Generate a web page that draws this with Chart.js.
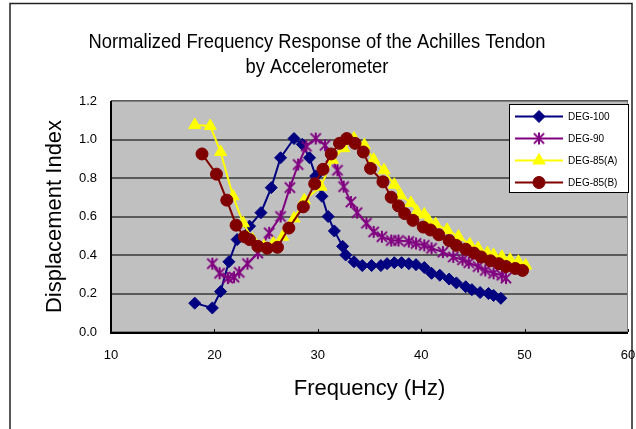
<!DOCTYPE html>
<html>
<head>
<meta charset="utf-8">
<script src="https://cdn.jsdelivr.net/npm/chart.js@4/dist/chart.umd.min.js"></script>
<style>
  html, body { margin: 0; padding: 0; background: #fff; }
  #wrap { width: 636px; height: 429px; position: relative; }
</style>
</head>
<body>
<div id="wrap"><canvas id="c" width="636" height="429"></canvas></div>
<script>
// ---- Data ----
const titleLines = ['Normalized Frequency Response of the Achilles Tendon', 'by Accelerometer'];
const seriesNames = ['DEG-100', 'DEG-90', 'DEG-85(A)', 'DEG-85(B)'];

const freq100 = [18.1, 19.8, 20.6, 21.4, 22.2, 23.4, 24.5, 25.5, 26.4, 27.7, 28.5, 29.2, 29.8, 30.4, 31.0, 31.6, 32.4, 32.7, 33.5, 34.3, 35.2, 36.1, 36.7, 37.4, 38.1, 38.8, 39.5, 40.3, 41.0, 41.8, 42.7, 43.4, 44.3, 44.9, 45.7, 46.5, 47.0, 47.7];
const disp100 = [0.15, 0.125, 0.21, 0.365, 0.48, 0.55, 0.62, 0.75, 0.905, 1.005, 0.975, 0.905, 0.81, 0.705, 0.60, 0.525, 0.445, 0.40, 0.365, 0.345, 0.345, 0.345, 0.355, 0.36, 0.36, 0.355, 0.35, 0.335, 0.305, 0.295, 0.275, 0.255, 0.235, 0.22, 0.205, 0.20, 0.19, 0.175];

const freq90 = [19.8, 20.5, 21.3, 21.9, 22.4, 23.2, 24.2, 25.3, 26.4, 27.3, 28.1, 28.9, 29.8, 30.7, 31.3, 31.9, 32.5, 33.2, 33.8, 34.7, 35.4, 36.2, 37.1, 37.8, 38.8, 39.5, 40.3, 41.0, 42.1, 43.1, 44.0, 44.6, 45.5, 46.2, 47.0, 47.8, 48.2];
const disp90 = [0.355, 0.305, 0.28, 0.285, 0.31, 0.355, 0.41, 0.515, 0.60, 0.75, 0.87, 0.965, 1.005, 0.97, 0.91, 0.84, 0.755, 0.675, 0.62, 0.565, 0.52, 0.495, 0.475, 0.475, 0.47, 0.46, 0.45, 0.435, 0.415, 0.39, 0.375, 0.36, 0.34, 0.32, 0.305, 0.295, 0.28];

const freq85A = [18.1, 19.6, 20.6, 21.8, 22.8, 23.7, 24.8, 25.7, 26.6, 27.7, 28.7, 30.3, 31.4, 32.5, 33.5, 34.5, 35.4, 36.4, 37.4, 38.0, 39.0, 39.6, 40.3, 40.7, 41.4, 42.5, 43.6, 44.7, 45.5, 46.4, 47.0, 47.8, 48.6, 49.4, 50.1];
const disp85A = [1.075, 1.07, 0.935, 0.705, 0.565, 0.48, 0.445, 0.46, 0.495, 0.59, 0.685, 0.755, 0.895, 0.955, 1.005, 0.97, 0.895, 0.84, 0.765, 0.71, 0.67, 0.625, 0.61, 0.58, 0.56, 0.53, 0.495, 0.455, 0.435, 0.41, 0.40, 0.39, 0.375, 0.365, 0.345];

const freq85B = [18.8, 20.2, 21.2, 22.1, 22.9, 23.4, 24.2, 25.1, 26.1, 27.2, 28.6, 29.7, 30.5, 31.3, 32.1, 32.8, 33.6, 34.4, 35.1, 36.3, 37.1, 37.8, 38.4, 39.2, 40.2, 40.9, 41.7, 42.7, 43.4, 44.3, 45.1, 45.8, 46.7, 47.5, 48.2, 49.1, 49.8];
const disp85B = [0.925, 0.82, 0.685, 0.555, 0.495, 0.48, 0.445, 0.435, 0.44, 0.54, 0.65, 0.77, 0.845, 0.925, 0.98, 1.005, 0.98, 0.935, 0.85, 0.78, 0.70, 0.655, 0.615, 0.58, 0.545, 0.53, 0.505, 0.475, 0.45, 0.43, 0.41, 0.39, 0.37, 0.355, 0.34, 0.33, 0.32];

const xTickMin = 10, xTickMax = 60, xTickStep = 10;
const yTickMin = 0, yTickMax = 1.2, yTickStep = 0.2;

// ---- helpers ----
function pts(xs, ys) { return xs.map((x, i) => ({ x: x, y: ys[i] })); }

// asterisk marker (vertical bar + X), like the spreadsheet "star" marker
function makeAsterisk(color, size) {
  const c = document.createElement('canvas');
  c.width = size; c.height = size;
  const g = c.getContext('2d');
  const m = size / 2, r = size / 2 - 1;
  g.strokeStyle = color; g.lineWidth = 2; g.lineCap = 'butt';
  g.beginPath();
  g.moveTo(m, m - r); g.lineTo(m, m + r);
  g.moveTo(m - r * 0.85, m - r * 0.85); g.lineTo(m + r * 0.85, m + r * 0.85);
  g.moveTo(m + r * 0.85, m - r * 0.85); g.lineTo(m - r * 0.85, m + r * 0.85);
  g.stroke();
  return c;
}
const asterisk = makeAsterisk('#800080', 14);

const ds = (label, data, color, style, radius, order) => ({
  label: label, data: data, showLine: true,
  borderColor: color, backgroundColor: color, borderWidth: 2,
  pointStyle: style, pointRadius: radius, pointHoverRadius: radius,
  pointBackgroundColor: color, pointBorderColor: color, pointBorderWidth: 1,
  tension: 0, order: order
});

const datasets = [
  ds(seriesNames[0], pts(freq100, disp100), '#000080', 'rectRot', 6, 4),
  ds(seriesNames[1], pts(freq90, disp90), '#800080', asterisk, 7, 3),
  ds(seriesNames[2], pts(freq85A, disp85A), '#FFFF00', 'triangle', 7, 2),
  ds(seriesNames[3], pts(freq85B, disp85B), '#800000', 'circle', 6, 1)
];

// ---- plugins ----
const framePlugin = {
  id: 'frame',
  beforeDraw(chart) {
    const ctx = chart.ctx, a = chart.chartArea;
    ctx.save();
    ctx.fillStyle = '#fff';
    ctx.fillRect(0, 0, chart.width, chart.height);
    ctx.strokeStyle = '#222'; ctx.lineWidth = 1.5;
    ctx.strokeRect(10, 3.5, 622, 460);
    ctx.fillStyle = '#C0C0C0';
    ctx.fillRect(a.left, a.top, a.right - a.left, a.bottom - a.top);
    // title (condensed, as in the reference)
    ctx.fillStyle = '#000';
    ctx.font = '20px "Liberation Sans", Arial, sans-serif';
    ctx.textAlign = 'center'; ctx.textBaseline = 'middle';
    const w1 = ctx.measureText(titleLines[0]).width;
    const sx = 457 / w1;
    const cx = 317;
    const ys = [42, 67];
    titleLines.forEach((t, i) => {
      ctx.save();
      ctx.translate(cx, ys[i]);
      ctx.scale(sx, 1);
      ctx.fillText(t, 0, 0);
      ctx.restore();
    });
    ctx.restore();
  },
  beforeDatasetsDraw(chart) {
    const ctx = chart.ctx, a = chart.chartArea, xs = chart.scales.x;
    ctx.save();
    ctx.strokeStyle = '#808080'; ctx.lineWidth = 1;
    ctx.strokeRect(a.left + 0.5, a.top + 0.5, a.right - a.left - 1, a.bottom - a.top - 1);
    ctx.strokeStyle = '#000'; ctx.lineWidth = 2;
    ctx.beginPath();
    ctx.moveTo(a.left, a.top); ctx.lineTo(a.left, a.bottom + 1);
    ctx.lineTo(a.right, a.bottom + 1);
    ctx.stroke();
    ctx.lineWidth = 1;
    ctx.beginPath();
    for (let v = xTickMin; v <= xTickMax; v += xTickStep) {
      const px = Math.round(xs.getPixelForValue(v)) + 0.5;
      ctx.moveTo(px, a.bottom); ctx.lineTo(px, a.bottom - 3);
    }
    ctx.stroke();
    ctx.restore();
  },
  afterDraw(chart) {
    // legend box inside the plot area, built from the datasets
    const ctx = chart.ctx;
    const bx = 509.5, by = 104.5, bw = 119, bh = 88;
    ctx.save();
    ctx.fillStyle = '#fff';
    ctx.fillRect(bx, by, bw, bh);
    ctx.strokeStyle = '#000'; ctx.lineWidth = 1;
    ctx.strokeRect(bx, by, bw, bh);
    const rows = [116.5, 138.5, 160.5, 182.5];
    chart.data.datasets.forEach((d, i) => {
      const y = rows[i];
      ctx.strokeStyle = d.borderColor; ctx.lineWidth = 2;
      ctx.beginPath(); ctx.moveTo(515, y); ctx.lineTo(563, y); ctx.stroke();
      ctx.fillStyle = d.pointBackgroundColor; ctx.strokeStyle = d.pointBorderColor; ctx.lineWidth = 1;
      Chart.helpers.drawPoint(ctx, { pointStyle: d.pointStyle, radius: d.pointRadius, rotation: 0, borderWidth: 1 }, 539, y);
      ctx.fillStyle = '#000';
      ctx.font = '10px "Liberation Sans", Arial, sans-serif';
      ctx.textAlign = 'left'; ctx.textBaseline = 'middle';
      ctx.fillText(d.label, 568, y + 0.5);
    });
    ctx.restore();
  }
};

Chart.defaults.font.family = '"Liberation Sans", Arial, sans-serif';
Chart.defaults.color = '#000';

new Chart(document.getElementById('c'), {
  type: 'scatter',
  data: { datasets: datasets },
  options: {
    responsive: false,
    animation: false,
    devicePixelRatio: 1,
    layout: { padding: { left: 0, right: 6, top: 101, bottom: 0 } },
    plugins: {
      legend: { display: false },
      tooltip: { enabled: false },
      title: { display: false }
    },
    scales: {
      x: {
        type: 'linear', min: xTickMin, max: xTickMax,
        ticks: { stepSize: xTickStep, padding: 16, font: { size: 13 }, color: '#000' },
        grid: { display: false, drawTicks: false },
        border: { display: false },
        title: { display: true, text: 'Frequency (Hz)', color: '#000', font: { size: 22 }, padding: { top: 0, bottom: 27 } },
        afterFit(s) { s.height = 97; s.paddingLeft = 0; s.paddingRight = 0; }
      },
      y: {
        type: 'linear', min: yTickMin, max: yTickMax,
        ticks: { stepSize: yTickStep, padding: 14, font: { size: 13 }, color: '#000', callback: v => Number(v).toFixed(1) },
        grid: { color: '#5a5a5a', lineWidth: 2, drawTicks: false },
        border: { display: false },
        title: { display: true, text: 'Displacement Index', color: '#000', font: { size: 22 }, padding: { top: 42, bottom: 0 } },
        afterFit(s) { s.width = 111; s.paddingTop = 0; s.paddingBottom = 0; }
      }
    }
  },
  plugins: [framePlugin]
});
</script>
</body>
</html>
